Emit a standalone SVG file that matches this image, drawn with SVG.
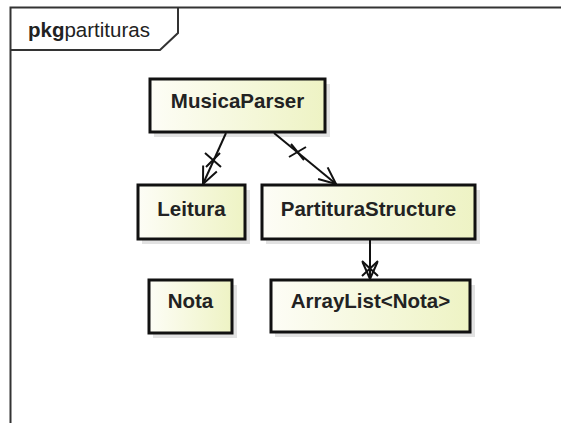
<svg xmlns="http://www.w3.org/2000/svg" width="561" height="423" viewBox="0 0 561 423">
  <defs>
    <linearGradient id="classFill" x1="0" y1="0" x2="1" y2="0">
      <stop offset="0" stop-color="#fdfdf6"/>
      <stop offset="1" stop-color="#eef3c4"/>
    </linearGradient>
    <marker id="openArrow" viewBox="0 0 22 22" refX="20" refY="11" markerWidth="22" markerHeight="22" markerUnits="userSpaceOnUse" orient="auto">
      <path d="M3,3.5 L20,11 L3,18.5" fill="none" stroke="#111" stroke-width="2"/>
    </marker>
  </defs>
  <style>
    .frame { fill: none; stroke: #333; stroke-width: 2; }
    .shadow { fill: #e2e2e2; }
    .box { fill: url(#classFill); stroke: #111; stroke-width: 3; }
    .name { font-family: "Liberation Sans", Arial, sans-serif; font-weight: bold; font-size: 20.5px; fill: #222; text-anchor: middle; }
    .tab { font-family: "Liberation Sans", Arial, sans-serif; font-size: 20.5px; fill: #222; }
    .edge { fill: none; stroke: #111; stroke-width: 2; }
    .cross { fill: none; stroke: #111; stroke-width: 2; }
  </style>
  <rect width="561" height="423" fill="#ffffff"/>

  <!-- package frame -->
  <g id="package">
    <path class="frame" d="M10.5,430 L10.5,7.5 L570,7.5"/>
    <path class="frame" d="M10.5,50 L160,50 L178,33 L178,7.5"/>
    <text class="tab" x="28" y="37"><tspan font-weight="bold">pkg</tspan>partituras</text>
  </g>

  <g id="MusicaParser">
    <rect class="shadow" x="154" y="84" width="176" height="53"/>
    <rect class="box" x="150" y="79" width="175" height="53"/>
    <text class="name" x="237.5" y="108">MusicaParser</text>
  </g>

  <g id="Leitura">
    <rect class="shadow" x="142" y="190" width="108" height="54"/>
    <rect class="box" x="138" y="185" width="107" height="54"/>
    <text class="name" x="191.5" y="216">Leitura</text>
  </g>

  <g id="PartituraStructure">
    <rect class="shadow" x="266" y="190" width="214" height="54"/>
    <rect class="box" x="262" y="185" width="213" height="54"/>
    <text class="name" x="368.5" y="216">PartituraStructure</text>
  </g>

  <g id="Nota">
    <rect class="shadow" x="153" y="285" width="84" height="53"/>
    <rect class="box" x="149" y="280" width="83" height="53"/>
    <text class="name" x="190.5" y="308">Nota</text>
  </g>

  <g id="ArrayListNota">
    <rect class="shadow" x="275" y="285" width="200" height="52"/>
    <rect class="box" x="271" y="280" width="199" height="52"/>
    <text class="name" x="370.5" y="308">ArrayList&lt;Nota&gt;</text>
  </g>

  <!-- associations -->
  <g id="connectors">
    <path class="edge" d="M226,133 L203,184" marker-end="url(#openArrow)"/>
    <path class="cross" d="M205,153 L221,167 M206,167 L220,153"/>

    <path class="edge" d="M274,133 L336,184" marker-end="url(#openArrow)"/>
    <path class="cross" d="M291,144 L304,160 M289,157 L306,147"/>

    <path class="edge" d="M370,240 L370,279" marker-end="url(#openArrow)"/>
    <path class="cross" d="M362,261 L378,276 M378,261 L362,276"/>
  </g>
</svg>
